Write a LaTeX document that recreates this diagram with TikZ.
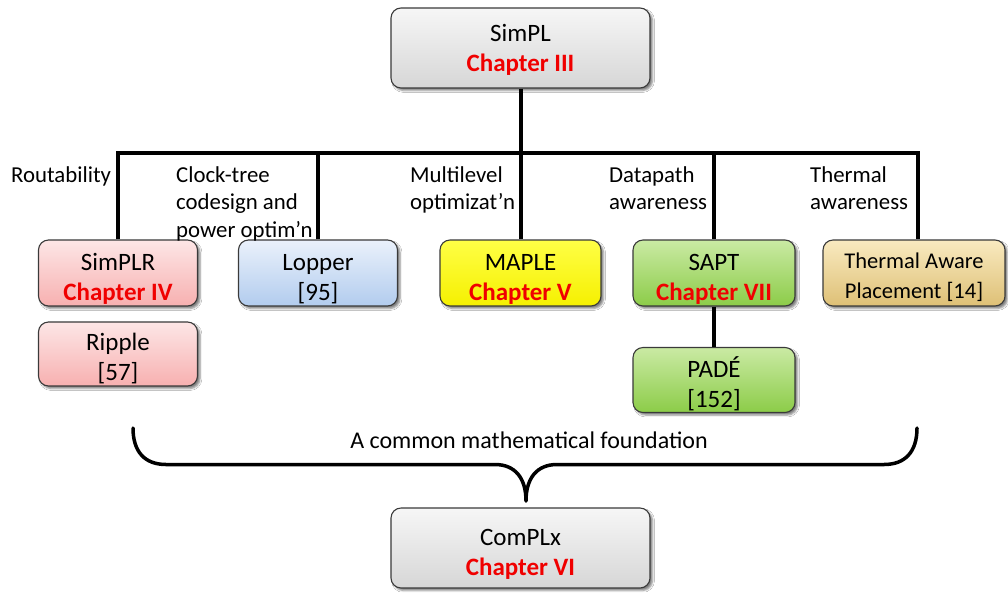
\documentclass[tikz,border=0pt]{standalone}
\usepackage{fontspec}
\setmainfont{Carlito}
\usetikzlibrary{shadows.blur}
\definecolor{chapred}{HTML}{F00000}
\definecolor{edge}{HTML}{3A3A3A}
\newcommand\chaptxt[1]{\textcolor{chapred}{\textbf{#1}}}
% extra room above the first line pushes box text slightly down
\newcommand\topgap[1][28pt]{\rule{0pt}{#1}}
\begin{document}
\begin{tikzpicture}[x=1pt,y=-1pt,
  box/.style={draw=edge, line width=1.1pt, rounded corners=10pt,
    minimum width=159pt, minimum height=66pt, align=center, inner sep=0pt,
    font=\fontsize{25}{30}\selectfont,
    blur shadow={shadow xshift=2.5pt, shadow yshift=-2.5pt, shadow opacity=50, shadow blur steps=4}},
  graybox/.style={box, top color=gray!7, bottom color=gray!32},
  pinkbox/.style={box, top color={rgb,255:red,253;green,230;blue,230}, bottom color={rgb,255:red,247;green,176;blue,176}},
  bluebox/.style={box, top color={rgb,255:red,234;green,241;blue,251}, bottom color={rgb,255:red,178;green,204;blue,238}},
  yellowbox/.style={box, top color={rgb,255:red,255;green,255;blue,70}, bottom color={rgb,255:red,245;green,240;blue,0}},
  greenbox/.style={box, top color={rgb,255:red,202;green,234;blue,164}, bottom color={rgb,255:red,140;green,204;blue,72}},
  tanbox/.style={box, top color={rgb,255:red,249;green,234;blue,192}, bottom color={rgb,255:red,222;green,192;blue,118}},
  lbl/.style={font=\fontsize{22.8}{27.5}\selectfont, align=left, anchor=north west, inner sep=0pt},
  wire/.style={line width=4pt, line join=miter},
]
% canvas
\path[fill=white] (0,0) rectangle (1008,592);
\useasboundingbox (0,0) rectangle (1008,592);

% root and leaf boxes
\node[graybox, minimum width=259pt, minimum height=80pt] (simpl) at (520.5,48) {\topgap[21pt]SimPL\\\chaptxt{Chapter III}};
\node[pinkbox] (simplr) at (118,273) {\topgap SimPLR\\\chaptxt{Chapter IV}};
\node[pinkbox, minimum height=64pt] (ripple) at (118,354) {\topgap[26pt]Ripple\\{[57]}};
\node[bluebox] (lopper) at (318,273) {\topgap Lopper\\{[95]}};
\node[yellowbox, minimum width=161pt] (maple) at (520.5,273) {\topgap MAPLE\\\chaptxt{Chapter V}};
\node[greenbox, minimum width=162pt] (sapt) at (714,273) {\topgap SAPT\\\chaptxt{Chapter VII}};
\node[greenbox, minimum width=162pt, minimum height=65pt] (pade) at (714,380) {\topgap PADÉ\\{[152]}};
\node[tanbox, minimum width=182pt, font=\fontsize{22.5}{29.5}\selectfont] (thermal) at (914,273) {\topgap[24pt]Thermal Aware\\Placement [14]};
\node[graybox, minimum width=259pt, minimum height=80pt] (complx) at (520.5,548) {\topgap ComPLx\\\chaptxt{Chapter VI}};

% tree wiring
\coordinate (bl) at (118,153);
\coordinate (bm) at (520.5,153);
\coordinate (br) at (918,153);
\draw[wire] (simpl.south) -- (bm);
\draw[wire] (simplr.north) -- (bl) -- (br) -- (br |- thermal.north);
\draw[wire] (lopper.north) -- (lopper.north |- bl);
\draw[wire] (maple.north) -- (bm);
\draw[wire] (sapt.north) -- (sapt.north |- bl);
\draw[wire] (sapt.south) -- (pade.north);

% branch labels
\node[lbl] (lroute) at (11,166) {Routability};
\node[lbl] (lclock) at (176,166) {Clock-tree\\codesign and\\power optim’n};
\node[lbl] (lmulti) at (410,166) {Multilevel\\optimizat’n};
\node[lbl] (ldata) at (609,166) {Datapath\\awareness};
\node[lbl] (ltherm) at (810,166) {Thermal\\awareness};

% brace gathering the placers
\coordinate (braceL) at (133,428);
\coordinate (braceR) at (917,428);
\coordinate (braceTip) at (526,501);
\draw[line width=3.5pt, line cap=round, line join=round]
  (braceL) .. controls (133,452) and (145,464.5) .. (166,464.5)
  -- (495,464.5) .. controls (515,464.5) and (526,478) .. (braceTip)
  .. controls (526,478) and (537,464.5) .. (557,464.5)
  -- (884,464.5) .. controls (905,464.5) and (917,452) .. (braceR);
\node[font=\fontsize{24}{28}\selectfont, inner sep=0pt] (found) at (529,440) {A common mathematical foundation};
\end{tikzpicture}
\end{document}
